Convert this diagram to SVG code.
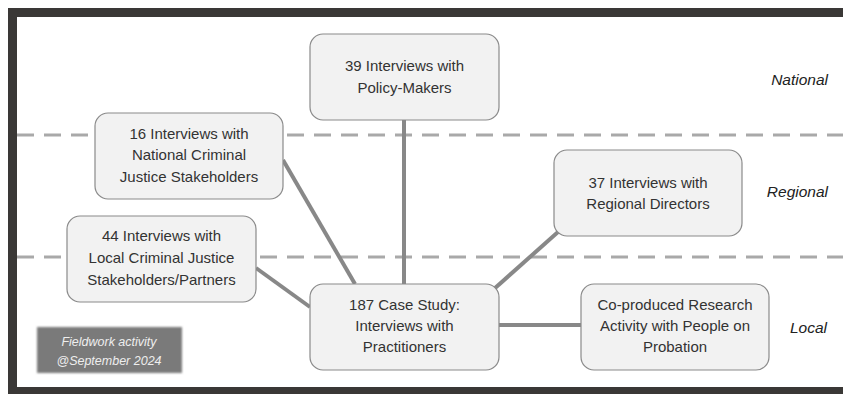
<svg xmlns="http://www.w3.org/2000/svg" width="843" height="394" viewBox="0 0 843 394">
<style>
.box{fill:#f2f2f2;stroke:#8a8a8a;stroke-width:1.2}
.t{font-family:"Liberation Sans",Arial,sans-serif;font-size:15px;fill:#333;text-anchor:middle}
.lvl{font-family:"Liberation Sans",Arial,sans-serif;font-size:15.5px;font-style:italic;fill:#222;text-anchor:end}
.dash{stroke:#a9a9a9;stroke-width:3;stroke-dasharray:17 10;fill:none}
.con{stroke:#888;stroke-width:4;fill:none}
.fw{font-family:"Liberation Sans",Arial,sans-serif;font-size:12.5px;font-style:italic;fill:#eee;text-anchor:middle}
</style>
<defs>
<filter id="blur" x="-10%" y="-20%" width="120%" height="140%"><feGaussianBlur stdDeviation="1"/></filter>
</defs>
<rect x="0" y="0" width="843" height="394" fill="#fff"/>
<path d="M12.5 394 V12.5 H843" fill="none" stroke="#3a3836" stroke-width="9"/>
<rect x="8" y="387" width="835" height="7" fill="#3a3836"/>
<g id="dividers">
<line class="dash" x1="17" y1="135" x2="843" y2="135"/>
<line class="dash" x1="17" y1="257" x2="843" y2="257"/>
</g>
<g id="connectors">
<line class="con" x1="404" y1="120" x2="404" y2="284"/>
<line class="con" x1="283" y1="160" x2="355" y2="284"/>
<line class="con" x1="256" y1="268" x2="310" y2="307"/>
<line class="con" x1="558" y1="232" x2="494" y2="289"/>
<line class="con" x1="499" y1="325" x2="581" y2="325"/>
</g>
<g id="policy">
<rect class="box" x="310" y="34" width="189" height="86" rx="13"/>
<text class="t" x="404.5" y="71">39 Interviews with</text>
<text class="t" x="404.5" y="93">Policy-Makers</text>
</g>
<g id="national-cj">
<rect class="box" x="95" y="113" width="188" height="86" rx="13"/>
<text class="t" x="189" y="139">16 Interviews with</text>
<text class="t" x="189" y="160">National Criminal</text>
<text class="t" x="189" y="182">Justice Stakeholders</text>
</g>
<g id="regional">
<rect class="box" x="554" y="150" width="188" height="86" rx="13"/>
<text class="t" x="648" y="188">37 Interviews with</text>
<text class="t" x="648" y="209">Regional Directors</text>
</g>
<g id="local-cj">
<rect class="box" x="67" y="216" width="189" height="86" rx="13"/>
<text class="t" x="161.5" y="241">44 Interviews with</text>
<text class="t" x="161.5" y="263">Local Criminal Justice</text>
<text class="t" x="161.5" y="285">Stakeholders/Partners</text>
</g>
<g id="case-study">
<rect class="box" x="310" y="284" width="189" height="86" rx="13"/>
<text class="t" x="404.5" y="310">187 Case Study:</text>
<text class="t" x="404.5" y="331">Interviews with</text>
<text class="t" x="404.5" y="352">Practitioners</text>
</g>
<g id="coproduced">
<rect class="box" x="581" y="284" width="188" height="86" rx="13"/>
<text class="t" x="675" y="310">Co-produced Research</text>
<text class="t" x="675" y="331">Activity with People on</text>
<text class="t" x="675" y="352">Probation</text>
</g>
<g id="levels">
<text class="lvl" x="828" y="85">National</text>
<text class="lvl" x="828" y="197">Regional</text>
<text class="lvl" x="827" y="333">Local</text>
</g>
<g id="fieldwork">
<rect x="37" y="327" width="145" height="46" fill="#7a7a7a" filter="url(#blur)"/>
<text class="fw" x="109" y="346">Fieldwork activity</text>
<text class="fw" x="109" y="365">@September 2024</text>
</g>
</svg>
